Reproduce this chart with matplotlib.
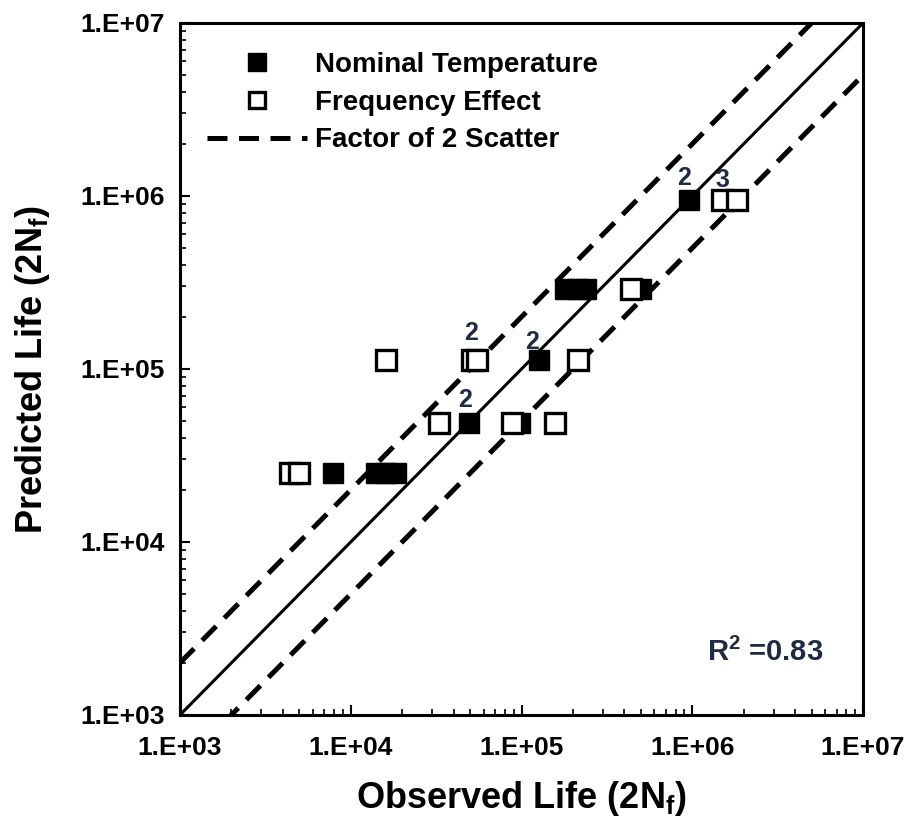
import numpy as np
import matplotlib
matplotlib.use("Agg")
from matplotlib import pyplot as plt
from matplotlib.ticker import LogLocator, FuncFormatter, NullFormatter

plt.rcParams['font.family'] = ['Liberation Sans', 'DejaVu Sans']
plt.rcParams['font.weight'] = 'bold'

# nominal temperature (filled squares)
nom_obs = [7.9e3, 1.4e4, 1.6e4, 1.85e4, 4.9e4, 9.8e4, 1.26e5, 1.8e5, 2.1e5, 2.4e5, 5.0e5, 9.6e5]
nom_pred = [2.5e4, 2.5e4, 2.5e4, 2.5e4, 4.9e4, 4.9e4, 1.12e5, 2.9e5, 2.9e5, 2.9e5, 2.9e5, 9.5e5]

# frequency effect (open squares)
freq_obs = [4.4e3, 5.0e3, 1.6e4, 5.1e4, 5.5e4, 2.15e5, 3.3e4, 8.8e4, 1.57e5, 4.4e5, 1.5e6, 1.82e6]
freq_pred = [2.5e4, 2.5e4, 1.12e5, 1.12e5, 1.12e5, 1.12e5, 4.9e4, 4.9e4, 4.9e4, 2.9e5, 9.5e5, 9.5e5]

# count labels for coinciding points
count_text = ['2', '2', '2', '2', '3']
count_x = [5.06e4, 1.15e5, 4.7e4, 8.95e5, 1.51e6]
count_y = [1.61e5, 1.43e5, 6.6e4, 1.27e6, 1.24e6]

line_x = np.array([1e3, 1e7])

fig = plt.figure(figsize=(9.15, 8.24), dpi=100)
ax = fig.add_axes([0.1967, 0.1323, 0.7465, 0.8398])

ax.plot(line_x, line_x, color='black', lw=2.2, zorder=2)
ax.plot(line_x, 2 * line_x, color='black', lw=3.6, ls=(0, (4, 2.3)), zorder=2,
        label='Factor of 2 Scatter')
ax.plot(line_x, line_x / 2, color='black', lw=3.6, ls=(0, (4, 2.3)), zorder=2)

ax.plot(nom_obs, nom_pred, ls='none', marker='s', ms=15, mfc='black', mec='black',
        zorder=3, label='Nominal Temperature')
ax.plot(freq_obs, freq_pred, ls='none', marker='s', ms=14, mfc='white', mec='black',
        mew=2.4, zorder=4, label='Frequency Effect')

for t, x, y in zip(count_text, count_x, count_y):
    ax.text(x, y, t, fontsize=18, fontweight='bold', color='#1f2a44',
            ha='center', va='center', zorder=5)

ax.set_xscale('log')
ax.set_yscale('log')
ax.set_xlim(1e3, 1e7)
ax.set_ylim(1e3, 1e7)

fmt = FuncFormatter(lambda v, p: "1.E+%02d" % int(round(np.log10(v))))
for axis in (ax.xaxis, ax.yaxis):
    axis.set_major_locator(LogLocator(base=10, numticks=10))
    axis.set_minor_locator(LogLocator(base=10, subs=np.arange(2, 10), numticks=10))
    axis.set_major_formatter(fmt)
    axis.set_minor_formatter(NullFormatter())

ax.tick_params(which='both', direction='in', top=False, right=False)
ax.tick_params(which='major', length=7, width=1.5, labelsize=19)
ax.tick_params(axis='x', which='major', pad=15)
ax.tick_params(axis='y', which='major', pad=11)
ax.tick_params(which='minor', length=4, width=1.2)
for lab in ax.get_xticklabels() + ax.get_yticklabels():
    lab.set_fontweight('bold')
for s in ax.spines.values():
    s.set_linewidth(2.2)

ax.set_xlabel('Observed Life (2N$_\\mathregular{f}$)', fontsize=26, fontweight='bold', labelpad=14)
ax.set_ylabel('Predicted Life (2N$_\\mathregular{f}$)', fontsize=26, fontweight='bold', labelpad=20)

ax.text(0.856, 0.090, 'R$^\\mathregular{2}$ =0.83', transform=ax.transAxes, fontsize=21,
        fontweight='bold', color='#1f2a44', ha='center', va='center')

handles, labels = ax.get_legend_handles_labels()
order = [1, 2, 0]
ax.legend([handles[i] for i in order], [labels[i] for i in order], loc='upper left',
          bbox_to_anchor=(0.0395, 0.958), frameon=False, handlelength=3.6,
          markerscale=0.85, labelspacing=0.42, handletextpad=0.3,
          borderpad=0, borderaxespad=0,
          prop={'weight': 'bold', 'size': 20})

fig.savefig('out.png', dpi=100)
